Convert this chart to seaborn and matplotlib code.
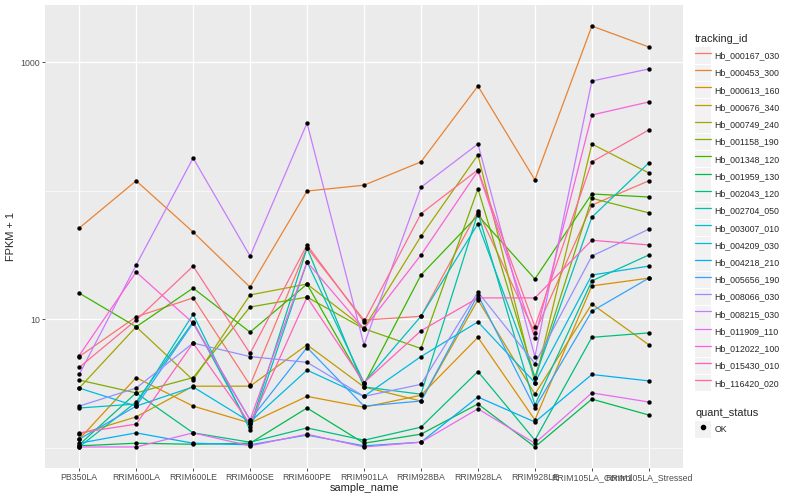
import matplotlib
matplotlib.use("Agg")
import matplotlib.pyplot as plt
from matplotlib.lines import Line2D
from matplotlib.patches import Patch
from matplotlib.legend_handler import HandlerTuple
from matplotlib.ticker import NullFormatter
import numpy as np
import pandas as pd
import seaborn as sns

# sample order on the x axis
samples = [
    "PB350LA", "RRIM600LA", "RRIM600LE", "RRIM600SE", "RRIM600PE", "RRIM901LA",
    "RRIM928BA", "RRIM928LA", "RRIM928LE", "RRIM105LA_Control", "RRIM105LA_Stressed",
]

tracking_ids = [
    "Hb_000167_030", "Hb_000453_300", "Hb_000613_160", "Hb_000676_340",
    "Hb_000749_240", "Hb_001158_190", "Hb_001348_120", "Hb_001959_130",
    "Hb_002043_120", "Hb_002704_050", "Hb_003007_010", "Hb_004209_030",
    "Hb_004218_210", "Hb_005656_190", "Hb_008066_030", "Hb_008215_030",
    "Hb_011909_110", "Hb_012022_100", "Hb_015430_010", "Hb_116420_020",
]

# FPKM + 1 per sample
hb_000167_030 = [5.1, 10.4, 14.6, 3.06, 36, 9.8, 10.5, 69, 7.8, 77, 119]
hb_000453_300 = [51, 119, 47.5, 17.7, 99, 110, 167, 650, 121, 1905, 1309]
hb_000613_160 = [1.16, 3.5, 2.1, 1.55, 2.5, 2.06, 2.55, 7.2, 1.64, 18.1, 20.8]
hb_000676_340 = [1.27, 1.73, 3.0, 3.0, 6.3, 2.96, 2.3, 14.1, 2.6, 13.1, 6.3]
hb_000749_240 = [2.9, 8.7, 3.35, 15.4, 18.7, 8.5, 44, 189, 3.2, 230, 137]
hb_001158_190 = [3.35, 2.66, 3.5, 12.4, 14.8, 8.4, 5.9, 103, 3.5, 87, 67]
hb_001348_120 = [15.9, 8.7, 17.4, 7.9, 18.7, 3.1, 22, 64, 20.5, 94, 89]
hb_001959_130 = [1.03, 1.08, 1.06, 1.08, 2.03, 1.08, 1.27, 2.18, 1.01, 2.38, 1.79]
hb_002043_120 = [1.05, 2.66, 1.30, 1.10, 1.42, 1.14, 1.44, 3.9, 1.14, 7.2, 7.8]
hb_002704_050 = [1.01, 2.26, 9.5, 1.44, 35.7, 2.96, 2.6, 67, 2.14, 19.8, 31.5]
hb_003007_010 = [2.03, 2.18, 10.9, 1.37, 27.8, 3.2, 10.5, 55, 3.5, 62, 164]
hb_004209_030 = [2.9, 2.1, 2.96, 1.58, 4.0, 2.5, 5.1, 9.5, 3.2, 22, 25.8]
hb_004218_210 = [1.08, 1.30, 1.08, 1.05, 1.25, 1.03, 1.10, 2.47, 1.58, 3.7, 3.3]
hb_005656_190 = [1.16, 2.1, 9.3, 1.64, 6.0, 2.1, 2.3, 15.4, 2.03, 11.5, 20.8]
hb_008066_030 = [2.1, 2.9, 6.5, 5.1, 4.6, 2.5, 3.1, 16.2, 4.5, 30.9, 50]
hb_008215_030 = [3.7, 26.3, 179, 30.9, 335, 6.3, 106, 230, 5.1, 711, 883]
hb_011909_110 = [1.01, 1.01, 1.30, 1.03, 1.27, 1.01, 1.10, 2.0, 1.08, 2.66, 2.26]
hb_012022_100 = [5.2, 23.2, 9.3, 1.64, 27.8, 8.4, 31.5, 142, 7.1, 387, 489]
hb_015430_010 = [1.30, 1.52, 6.5, 1.52, 14.8, 3.2, 8.1, 14.6, 14.6, 41, 37.7]
hb_116420_020 = [4.2, 9.8, 25.8, 5.4, 37.7, 9.5, 66, 145, 8.7, 167, 296]

series = [
    hb_000167_030, hb_000453_300, hb_000613_160, hb_000676_340, hb_000749_240,
    hb_001158_190, hb_001348_120, hb_001959_130, hb_002043_120, hb_002704_050,
    hb_003007_010, hb_004209_030, hb_004218_210, hb_005656_190, hb_008066_030,
    hb_008215_030, hb_011909_110, hb_012022_100, hb_015430_010, hb_116420_020,
]

# ggplot2 default hue palette for 20 levels
palette = [
    "#F8766D", "#EA8331", "#D89000", "#C09B00", "#A3A500", "#7CAE00", "#39B600",
    "#00BB4E", "#00BF7D", "#00C1A3", "#00BFC4", "#00BAE0", "#00B0F6", "#35A2FF",
    "#9590FF", "#C77CFF", "#E76BF3", "#FA62DB", "#FF62BC", "#FF6C91",
]


def main() -> None:
    rows = []
    for tid, vals in zip(tracking_ids, series):
        for i, (s, v) in enumerate(zip(samples, vals)):
            rows.append({"tracking_id": tid, "sample_name": s, "pos": i, "fpkm": v})
    df = pd.DataFrame(rows)

    sns.set_style("darkgrid", {"axes.facecolor": "#EBEBEB", "grid.color": "white"})
    plt.rcParams["font.family"] = ["Liberation Sans", "DejaVu Sans"]

    fig = plt.figure(figsize=(8, 5), dpi=100)
    ax = fig.add_axes([45 / 800, 32 / 500, 638 / 800, 463 / 500])

    sns.lineplot(
        data=df, x="pos", y="fpkm", hue="tracking_id", hue_order=tracking_ids,
        palette=palette, estimator=None, sort=False, legend=False,
        linewidth=0.9, ax=ax,
    )
    sns.scatterplot(
        data=df, x="pos", y="fpkm", color="black", s=10, linewidth=0,
        ax=ax, zorder=3,
    )

    ax.set_yscale("log")
    lo, hi = np.log10(df["fpkm"].min()), np.log10(df["fpkm"].max())
    pad = 0.05 * (hi - lo)
    ax.set_ylim(10 ** (lo - pad), 10 ** (hi + pad))
    ax.set_xlim(-0.6, len(samples) - 0.4)

    ax.set_xticks(range(len(samples)))
    ax.set_xticklabels(samples)
    ax.set_yticks([10, 1000])
    ax.set_yticklabels(["10", "1000"])
    ax.set_yticks([1, 100], minor=True)
    ax.yaxis.set_minor_formatter(NullFormatter())
    ax.xaxis.set_minor_locator(matplotlib.ticker.NullLocator())

    ax.grid(which="major", color="white", linewidth=0.9)
    ax.grid(which="minor", axis="y", color="white", linewidth=0.45)
    ax.grid(which="minor", axis="x", visible=False)
    ax.tick_params(which="major", length=2, width=0.6, color="#333333",
                   labelsize=6.3, labelcolor="#4D4D4D", pad=1.5,
                   bottom=True, left=True)
    ax.tick_params(which="minor", length=0)
    for sp in ax.spines.values():
        sp.set_visible(False)

    ax.set_xlabel("sample_name", fontsize=7.9, labelpad=1)
    ax.set_ylabel("FPKM + 1", fontsize=7.9, labelpad=3)

    key = dict(facecolor="#F2F2F2", edgecolor="none")
    handles = [(Patch(**key), Line2D([], [], color=c, lw=0.9)) for c in palette]
    common = dict(
        loc="upper left", frameon=False,
        handler_map={tuple: HandlerTuple(ndivide=1, pad=0)},
        fontsize=6.3, title_fontsize=7.9, handlelength=1.8, handleheight=2.53,
        labelspacing=0.08, handletextpad=0.45, borderaxespad=0, borderpad=0,
        alignment="left",
    )
    leg1 = fig.legend(handles, tracking_ids, title="tracking_id",
                      bbox_to_anchor=(695 / 800, 1 - 34 / 500), **common)
    leg1._legend_box.sep = 2.5
    ok_handle = (Patch(**key), Line2D([], [], color="black", marker="o",
                                      linestyle="none", markersize=3))
    leg2 = fig.legend([ok_handle], ["OK"], title="quant_status",
                      bbox_to_anchor=(695 / 800, 1 - 408 / 500), **common)
    leg2._legend_box.sep = 2.5

    fig.savefig("out.png", dpi=100)
    plt.close(fig)


if __name__ == "__main__":
    main()
